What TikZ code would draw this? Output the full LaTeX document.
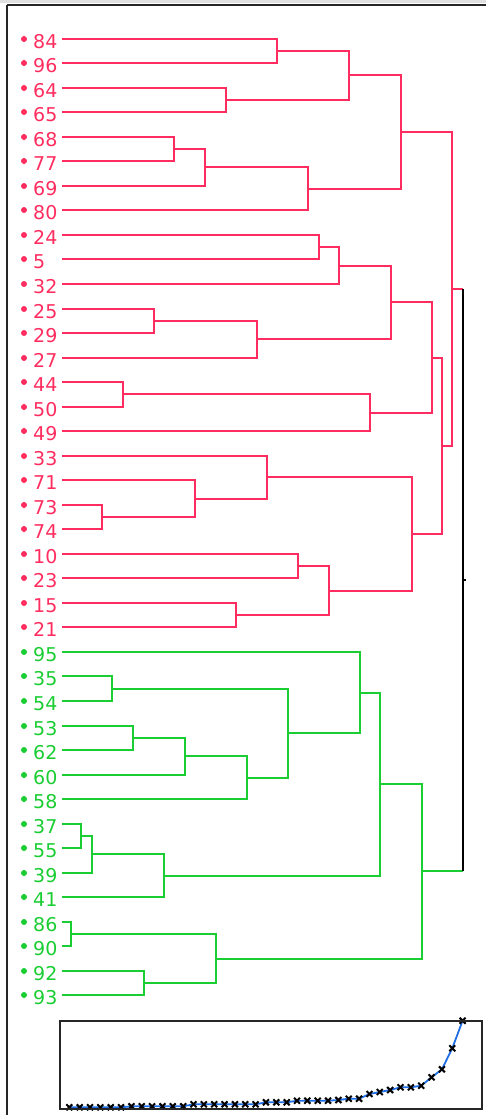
\documentclass[tikz,border=0pt]{standalone}
\usepackage{fontspec}
\setmainfont{DejaVu Sans}
\definecolor{dred}{RGB}{255,45,95}
\definecolor{dgreen}{RGB}{25,205,50}
\definecolor{pblue}{RGB}{30,110,230}
\newcommand\Mk[3]{\coordinate (#1) at ({round(#2)},{round(38.7+24.53*#3)});}
\tikzset{
  rl/.style={draw=dred, line width=2.1pt},
  gl/.style={draw=dgreen, line width=2.1pt},
  bl/.style={draw=black, line width=2.1pt},
  leafdot/.style={circle, inner sep=0pt, minimum size=6pt},
  leaflab/.style={anchor=base west, inner sep=0pt, font=\fontsize{19}{20}\selectfont},
  frameline/.style={draw=black!85, line width=2.1pt},
}
\begin{document}
\begin{tikzpicture}[x=1pt,y=-1pt]
\useasboundingbox (0,0) rectangle (486,1115);
% window frame
\fill[black!12] (0,0) rectangle (486,3.3);
\draw[frameline] (7,5) -- (486,5);
\draw[frameline] (7,5) -- (7,1115);
% leaves
\foreach \lab [count=\i from 0] in {84,96,64,65,68,77,69,80,24,5,32,25,29,27,44,50,49,33,71,73,74,10,23,15,21} {
  \pgfmathsetmacro\yy{round(38.7+24.53*\i)}
  \node[leafdot, fill=dred] (d\lab) at (24,\yy) {};
  \node[leaflab, text=dred] (t\lab) at (33,{\yy+9.6}) {\lab};
  \coordinate (a\lab) at (62,\yy);
}
\foreach \lab [count=\i from 25] in {95,35,54,53,62,60,58,37,55,39,41,86,90,92,93} {
  \pgfmathsetmacro\yy{round(38.7+24.53*\i)}
  \node[leafdot, fill=dgreen] (d\lab) at (24,\yy) {};
  \node[leaflab, text=dgreen] (t\lab) at (33,{\yy+9.6}) {\lab};
  \coordinate (a\lab) at (62,\yy);
}
% merge points (red)
\Mk{r1}{277.3}{0.5}
\Mk{r2}{226}{2.5}
\Mk{r3}{349.3}{1.5}
\Mk{r4}{174}{4.5}
\Mk{r5}{205}{5.25}
\Mk{r6}{308.3}{6.125}
\Mk{r7}{401}{3.8125}
\Mk{r8}{318.7}{8.5}
\Mk{r9}{339.3}{9.25}
\Mk{r10}{153.7}{11.5}
\Mk{r11}{256.7}{12.25}
\Mk{r12}{390.7}{10.75}
\Mk{r13}{123}{14.5}
\Mk{r14}{370}{15.25}
\Mk{r15}{432.3}{13}
\Mk{r16}{102}{19.5}
\Mk{r17}{195}{18.75}
\Mk{r18}{267}{17.875}
\Mk{r19}{297.7}{21.5}
\Mk{r20}{236}{23.5}
\Mk{r21}{329.3}{22.5}
\Mk{r22}{411.7}{20.1875}
\Mk{r23}{442.3}{16.59375}
\Mk{r24}{452.3}{10.203125}
% merge points (green)
\Mk{g1}{112.3}{26.5}
\Mk{g2}{133.3}{28.5}
\Mk{g3}{184.7}{29.25}
\Mk{g4}{246.7}{30.125}
\Mk{g5}{287.7}{28.3125}
\Mk{g6}{360}{26.65625}
\Mk{g7}{81.3}{32.5}
\Mk{g8}{92}{33.25}
\Mk{g9}{164}{34.125}
\Mk{g10}{380.3}{30.390625}
\Mk{g11}{71.3}{36.5}
\Mk{g12}{143.7}{38.5}
\Mk{g13}{216}{37.5}
\Mk{g14}{422}{33.9453125}
\Mk{root}{463.3}{22.07421875}
% red connectors
\foreach \c/\p in {a84/r1,a96/r1,a64/r2,a65/r2,r1/r3,r2/r3,a68/r4,a77/r4,r4/r5,a69/r5,r5/r6,a80/r6,r3/r7,r6/r7,
  a24/r8,a5/r8,r8/r9,a32/r9,a25/r10,a29/r10,r10/r11,a27/r11,r9/r12,r11/r12,a44/r13,a50/r13,r13/r14,a49/r14,r12/r15,r14/r15,
  a73/r16,a74/r16,a71/r17,r16/r17,a33/r18,r17/r18,a10/r19,a23/r19,a15/r20,a21/r20,r19/r21,r20/r21,r18/r22,r21/r22,
  r15/r23,r22/r23,r7/r24,r23/r24}
  \draw[rl] (\c) -| (\p);
% green connectors
\foreach \c/\p in {a35/g1,a54/g1,a53/g2,a62/g2,g2/g3,a60/g3,g3/g4,a58/g4,g1/g5,g4/g5,a95/g6,g5/g6,
  a37/g7,a55/g7,g7/g8,a39/g8,g8/g9,a41/g9,g6/g10,g9/g10,a86/g11,a90/g11,a92/g12,a93/g12,g11/g13,g12/g13,g10/g14,g13/g14}
  \draw[gl] (\c) -| (\p);
% root
\draw[rl] (r24) -- (r24 -| root);
\draw[gl] (g14) -- (g14 -| root);
\draw[bl] (r24 -| root) -- (g14 -| root);
\draw[bl] (root) -- ++(2.5,0);
% inset plot
\draw[pblue, line width=1.8pt, mark=x, mark size=4.2pt, mark options={black, line width=2pt}]
  plot coordinates {
  (69.3,1107.3) (79.65,1107.3) (90.0,1107.3) (100.35,1107.3) (110.7,1107.3) (121.05,1107.3)
  (131.4,1106.3) (141.75,1106.3) (152.1,1106.3) (162.45,1106.3) (172.8,1106.3) (183.15,1106.3)
  (193.5,1104.3) (203.85,1104.3) (214.2,1104.3) (224.55,1104.3) (234.9,1104.3) (245.25,1104.3) (255.6,1104.3)
  (265.95,1102.3) (276.3,1102.3) (286.65,1102.3)
  (297.0,1100.7) (307.35,1100.7) (317.7,1100.7) (328.05,1100.7)
  (338.4,1100) (348.75,1098.7) (359.1,1098.7)
  (369.45,1094) (379.8,1092) (390.15,1090) (400.5,1087.3) (410.85,1087.3) (421.2,1085.7)
  (431.55,1077.3) (441.9,1069.3) (452.25,1048.3) (462.6,1020.7)};
\draw[frameline] (60,1021) rectangle (482,1109);
\end{tikzpicture}
\end{document}
